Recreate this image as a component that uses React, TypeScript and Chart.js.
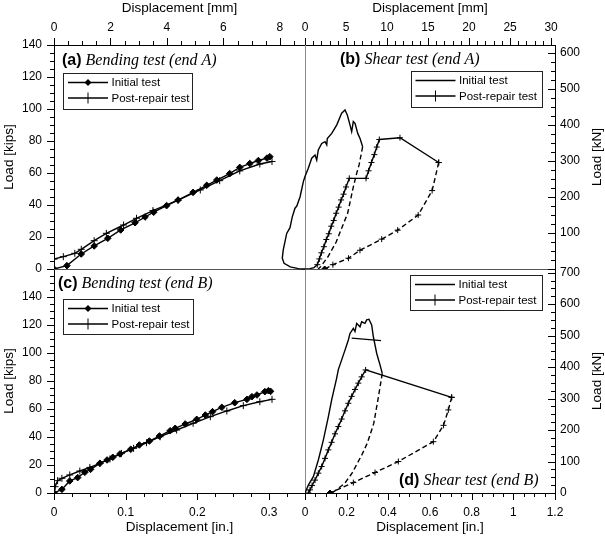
import React, { useEffect, useRef } from 'react';
import { Chart, registerables } from 'chart.js';

Chart.register(...registerables);

// ---------------- DATA ----------------
// (a) Bending test (end A): displacement [in.], load [kips]
const aInitialX = [0, 0.018, 0.038, 0.056, 0.075, 0.093, 0.113, 0.127, 0.139, 0.157, 0.173, 0.194, 0.213, 0.227, 0.245, 0.259, 0.273, 0.285, 0.297, 0.301];
const aInitialY = [0, 2.1, 9.4, 14.4, 19.2, 24.4, 28.9, 32.5, 35.5, 39.6, 43.1, 47.9, 52.3, 55.6, 59.6, 63.5, 65.9, 67.8, 69.3, 70.2];
const aPostX = [0, 0, 0.013, 0.029, 0.038, 0.056, 0.073, 0.097, 0.115, 0.138, 0.173, 0.204, 0.231, 0.259, 0.287, 0.304];
const aPostY = [0, 6.2, 7.7, 9.8, 12.3, 17.7, 22.3, 27.5, 31.7, 36.5, 43, 49.4, 55.2, 61.3, 65.6, 67.2];

// (c) Bending test (end B): displacement [in.], load [kips]
const cInitialX = [0, 0.011, 0.022, 0.033, 0.043, 0.051, 0.064, 0.074, 0.082, 0.092, 0.107, 0.119, 0.133, 0.147, 0.162, 0.169, 0.183, 0.199, 0.211, 0.221, 0.234, 0.252, 0.269, 0.276, 0.283, 0.294, 0.299, 0.302];
const cInitialY = [0, 2.6, 8.6, 11, 14.8, 16.9, 21.2, 23.6, 25.5, 27.9, 31.2, 34.3, 37.1, 40.7, 44.5, 46.2, 49.3, 52.6, 55.7, 58.1, 61.2, 64.5, 66.9, 68.8, 70, 72.4, 73.1, 72.6];
const cPostX = [0, 0.0015, 0.005, 0.011, 0.022, 0.036, 0.05, 0.064, 0.078, 0.094, 0.111, 0.129, 0.148, 0.171, 0.194, 0.218, 0.241, 0.264, 0.287, 0.304];
const cPostY = [0, 4.5, 8.8, 10.5, 12.9, 15.7, 18.3, 21.2, 24.3, 28.3, 31.9, 35.9, 40.2, 45, 49.8, 54.5, 58.6, 62.4, 65.2, 66.9];

// (b) Shear test (end A): displacement [mm], load [kN]
const bInitialX = [0, -0.8, -1.8, -2.55, -2.77, -2.65, -2.23, -1.83, -1.55, -1.22, -1.0, -0.6, -0.2, 0, 0.4, 0.82, 1.22, 1.43, 1.62, 2.04, 2.44, 2.65, 2.72, 3.26, 3.86, 4.47, 4.88, 5.16, 5.49, 5.69, 5.89, 6.1, 6.43, 6.71, 7.03];
const bInitialY = [0, 1, 6, 16, 30, 53, 99, 115, 145, 169, 175, 201, 243, 257, 280, 308, 317, 303, 331, 349, 354, 345, 363, 377, 400, 433, 442, 428, 400, 382, 410, 405, 377, 363, 340];
const bInitialUnloadX = [7.03, 6.6, 6.3, 5.9, 5.2, 3.8, 2.8, 1.9, 1.6];
const bInitialUnloadY = [340, 290, 266, 229, 155, 75, 34, 6, 0];
const bPostToeX = [0, 0.6, 1.1, 1.5];
const bPostToeY = [0, 1, 4, 12];
const bPostX = [1.5, 1.75, 2.0, 2.3, 2.6, 2.9, 3.2, 3.5, 3.8, 4.1, 4.4, 4.7, 5.0, 5.4, 7.44, 7.75, 8.1, 8.45, 8.75, 9.06, 11.58, 16.3];
const bPostY = [12, 28, 45, 62, 82, 98, 119, 135, 155, 172, 192, 208, 228, 252, 252, 273, 296, 318, 339, 360, 365, 296];
const bPostUnloadX = [16.3, 15.5, 13.8, 11.3, 9.35, 6.7, 5.3, 3.4, 2.4];
const bPostUnloadY = [296, 218, 150, 108, 83, 52, 30, 12, 0];

// (d) Shear test (end B): displacement [in.], load [kN]
const dInitialX = [0, 0.016, 0.04, 0.064, 0.088, 0.112, 0.128, 0.152, 0.16, 0.176, 0.192, 0.208, 0.216, 0.232, 0.24, 0.248, 0.264, 0.272, 0.288, 0.296, 0.307, 0.32, 0.328, 0.344, 0.36, 0.371];
const dInitialY = [0, 25, 52, 105, 168, 242, 296, 365, 392, 423, 454, 486, 507, 523, 513, 539, 528, 544, 539, 550, 552, 534, 497, 444, 407, 380];
const dInitialBranchX = [0.224, 0.365];
const dInitialBranchY = [492, 484];
const dInitialUnloadX = [0.371, 0.35, 0.33, 0.30, 0.272, 0.225, 0.19, 0.13];
const dInitialUnloadY = [380, 296, 221, 160, 120, 62, 30, 0];
const dPostX = [0.016, 0.024, 0.034, 0.048, 0.064, 0.080, 0.096, 0.112, 0.128, 0.144, 0.160, 0.176, 0.192, 0.208, 0.224, 0.240, 0.256, 0.272, 0.291, 0.704];
const dPostY = [0, 10, 24, 41, 63, 84, 110, 137, 161, 188, 211, 235, 261, 285, 307, 329, 349, 369, 391, 304];
const dPostUnloadX = [0.704, 0.688, 0.665, 0.616, 0.448, 0.336, 0.232, 0.12];
const dPostUnloadY = [304, 264, 215, 163, 100, 65, 33, 0];

// axis ranges
const IN_TO_MM = 25.4;
const KIPS_TO_KN = 4.448;
const LEFT_IN_MAX = 0.35;
const RIGHT_IN_MAX = 1.2;
const TOP_KIPS_MAX = 140;
const BOTTOM_KIPS_MAX = 160;

const LABEL_INITIAL = 'Initial test';
const LABEL_POST = 'Post-repair test';

const PANEL_TITLES = [
  { letter: '(a)', text: 'Bending test (end A)', x: 62, y: 61 },
  { letter: '(b)', text: 'Shear test (end A)', x: 340, y: 59.5 },
  { letter: '(c)', text: 'Bending test (end B)', x: 58, y: 284 },
  { letter: '(d)', text: 'Shear test (end B)', x: 399, y: 481 },
];

// ---------------- STYLE ----------------
const SANS = "'Liberation Sans', Arial, Helvetica, sans-serif";
const SERIF = "'Liberation Serif', 'Times New Roman', serif";
const tickFont = { family: SANS, size: 12 };
const titleFont = { family: SANS, size: 13.5 };

const LEGEND_BOXES: Record<string, { x: number; y: number; w: number; h: number }> = {
  a: { x: 63, y: 73, w: 129, h: 35.5 },
  b: { x: 410.5, y: 71, w: 131, h: 35.5 },
  c: { x: 63, y: 299, w: 130, h: 35 },
  d: { x: 410, y: 275, w: 131.5, h: 35 },
};

const MINOR_STEP: Record<string, number> = { xTL: 0.5, xTR: 1, xBL: 0.025, xBR: 0.05, yLT: 5, yLB: 5, yRT: 25, yRB: 25 };
const MAJOR_LEN = 7;
const MINOR_LEN = 4;

const zip = (xs: number[], ys: number[]) => xs.map((x, i) => ({ x, y: ys[i] }));
const fmt = (v: number) => String(Math.round(v * 1000) / 1000);

function drawTick(ctx: any, scale: any, v: number, len: number) {
  const p = Math.round(scale.getPixelForValue(v)) + 0.5;
  ctx.beginPath();
  if (scale.position === 'top') {
    ctx.moveTo(p, scale.bottom);
    ctx.lineTo(p, scale.bottom - len);
  } else if (scale.position === 'bottom') {
    ctx.moveTo(p, scale.top);
    ctx.lineTo(p, scale.top + len);
  } else if (scale.position === 'left') {
    ctx.moveTo(scale.right, p);
    ctx.lineTo(scale.right - len, p);
  } else {
    ctx.moveTo(scale.left, p);
    ctx.lineTo(scale.left - len, p);
  }
  ctx.stroke();
}

function drawMarker(ctx: any, style: string, x: number, y: number, r: number) {
  ctx.beginPath();
  if (style === 'diamond') {
    ctx.moveTo(x, y - r);
    ctx.lineTo(x + r, y);
    ctx.lineTo(x, y + r);
    ctx.lineTo(x - r, y);
    ctx.closePath();
    ctx.fill();
  } else if (style === 'cross') {
    ctx.moveTo(x, y - r);
    ctx.lineTo(x, y + r);
    ctx.stroke();
  }
}

const decorPlugin = {
  id: 'decor',
  beforeDatasetsDraw(chart: any) {
    const { ctx, chartArea: ca, scales } = chart;
    ctx.save();
    ctx.lineWidth = 1;
    // dividing lines
    const xm = Math.round(scales.xBR.getPixelForValue(0)) + 0.5;
    const ym = Math.round(scales.yLT.getPixelForValue(0)) + 0.5;
    ctx.strokeStyle = '#8c8c8c';
    ctx.beginPath();
    ctx.moveTo(xm, ca.top);
    ctx.lineTo(xm, ca.bottom);
    ctx.stroke();
    ctx.strokeStyle = '#555';
    ctx.beginPath();
    ctx.moveTo(ca.left, ym);
    ctx.lineTo(ca.right, ym);
    ctx.stroke();
    // ticks
    ctx.strokeStyle = '#000';
    Object.keys(MINOR_STEP).forEach((id) => {
      const scale = scales[id];
      if (!scale) return;
      const majors = scale.ticks.map((t: any) => t.value);
      majors.forEach((v: number) => drawTick(ctx, scale, v, MAJOR_LEN));
      const step = MINOR_STEP[id];
      const n = Math.floor((scale.max - scale.min) / step + 1e-6);
      for (let i = 0; i <= n; i++) {
        const v = scale.min + i * step;
        if (majors.some((m: number) => Math.abs(m - v) < step * 1e-3)) continue;
        drawTick(ctx, scale, v, MINOR_LEN);
      }
    });
    ctx.restore();
  },
  afterDatasetsDraw(chart: any) {
    const { ctx, scales } = chart;
    ctx.save();
    // right-hand axis titles (read bottom to top)
    ctx.fillStyle = '#000';
    ctx.font = `${titleFont.size}px ${SANS}`;
    ctx.textAlign = 'center';
    ctx.textBaseline = 'middle';
    ['yRT', 'yRB'].forEach((id) => {
      const s = scales[id];
      ctx.save();
      ctx.translate(s.right - 7.5, (s.top + s.bottom) / 2);
      ctx.rotate(-Math.PI / 2);
      ctx.fillText('Load [kN]', 0, 0);
      ctx.restore();
    });
    // legends
    Object.keys(LEGEND_BOXES).forEach((key) => {
      const b = LEGEND_BOXES[key];
      const items = chart.data.datasets.filter((d: any) => d.legendPanel === key);
      ctx.fillStyle = '#fff';
      ctx.fillRect(b.x, b.y, b.w, b.h);
      ctx.strokeStyle = '#222';
      ctx.lineWidth = 1;
      ctx.strokeRect(Math.round(b.x) + 0.5, Math.round(b.y) + 0.5, Math.round(b.w), Math.round(b.h));
      items.forEach((d: any, i: number) => {
        const y = b.y + 9.5 + i * 15.5;
        ctx.strokeStyle = '#000';
        ctx.fillStyle = '#000';
        ctx.lineWidth = 1.4;
        ctx.beginPath();
        ctx.moveTo(b.x + 5, y);
        ctx.lineTo(b.x + 45, y);
        ctx.stroke();
        ctx.lineWidth = 1;
        if (d.legendMarker === 'diamond') drawMarker(ctx, 'diamond', b.x + 25, y, 3.5);
        if (d.legendMarker === 'cross') drawMarker(ctx, 'cross', b.x + 25, y, 5.5);
        ctx.font = `11.5px ${SANS}`;
        ctx.textAlign = 'left';
        ctx.textBaseline = 'middle';
        ctx.fillText(d.label, b.x + 48.5, y + 0.5);
      });
    });
    // panel titles
    ctx.fillStyle = '#000';
    ctx.textBaseline = 'middle';
    ctx.textAlign = 'left';
    PANEL_TITLES.forEach((t) => {
      ctx.font = `bold 16px ${SANS}`;
      ctx.fillText(t.letter, t.x, t.y);
      const w = ctx.measureText(t.letter).width;
      ctx.font = `italic 16px ${SERIF}`;
      ctx.fillText(t.text, t.x + w + 4, t.y);
    });
    ctx.restore();
  },
};

function line(data: any[], xAxisID: string, yAxisID: string, extra: any = {}) {
  return {
    data,
    xAxisID,
    yAxisID,
    showLine: true,
    borderColor: '#000',
    backgroundColor: '#000',
    pointBackgroundColor: '#000',
    pointBorderColor: '#000',
    borderWidth: 1.4,
    pointRadius: 0,
    pointHoverRadius: 0,
    pointBorderWidth: 1,
    tension: 0,
    fill: false,
    ...extra,
  };
}

function axis(position: string, stack: string, stackWeight: number, weight: number, min: number, max: number, step: number, opts: any) {
  const horizontal = position === 'top' || position === 'bottom';
  return {
    type: 'linear',
    position,
    stack,
    stackWeight,
    weight,
    min,
    max,
    grid: { display: false, drawTicks: false },
    border: { display: true, color: '#000', width: 1 },
    ticks: {
      stepSize: step,
      includeBounds: false,
      autoSkip: false,
      maxRotation: 0,
      color: '#000',
      font: tickFont,
      padding: opts.padding,
      callback: (v: number) => (opts.hide && opts.hide.some((h: number) => Math.abs(h - v) < 1e-6) ? '' : fmt(v)),
    },
    title: opts.title
      ? { display: true, text: opts.title, color: '#000', font: titleFont, padding: opts.titlePadding }
      : { display: false },
    afterFit: (s: any) => {
      if (horizontal) s.height = opts.size;
      else s.width = opts.size;
      s.paddingLeft = 0;
      s.paddingRight = 0;
      s.paddingTop = 0;
      s.paddingBottom = 0;
    },
  };
}

export default function App() {
  const ref = useRef<HTMLCanvasElement | null>(null);

  useEffect(() => {
    if (!ref.current) return;
    const lastFilled = (c: any) => (c.dataIndex === c.dataset.data.length - 1 ? 'rectRot' : 'cross');
    const chart = new Chart(ref.current, {
      type: 'scatter',
      data: {
        datasets: [
          // (a)
          line(zip(aInitialX, aInitialY), 'xBL', 'yLT', { label: LABEL_INITIAL, legendPanel: 'a', legendMarker: 'diamond', pointStyle: 'rectRot', pointRadius: 3.3 }),
          line(zip(aPostX, aPostY), 'xBL', 'yLT', { label: LABEL_POST, legendPanel: 'a', legendMarker: 'cross', pointStyle: 'cross', pointRadius: 3.5 }),
          // (c)
          line(zip(cInitialX, cInitialY), 'xBL', 'yLB', { label: LABEL_INITIAL, legendPanel: 'c', legendMarker: 'diamond', pointStyle: 'rectRot', pointRadius: 3.3 }),
          line(zip(cPostX, cPostY), 'xBL', 'yLB', { label: LABEL_POST, legendPanel: 'c', legendMarker: 'cross', pointStyle: 'cross', pointRadius: 3.5 }),
          // (b)
          line(zip(bInitialX, bInitialY), 'xTR', 'yRT', { label: LABEL_INITIAL, legendPanel: 'b', legendMarker: 'none', clip: false }),
          line(zip(bInitialUnloadX, bInitialUnloadY), 'xTR', 'yRT', { label: LABEL_INITIAL, borderDash: [5, 3] }),
          line(zip(bPostToeX, bPostToeY), 'xTR', 'yRT', { label: LABEL_POST }),
          line(zip(bPostX, bPostY), 'xTR', 'yRT', { label: LABEL_POST, legendPanel: 'b', legendMarker: 'cross', pointStyle: 'cross', pointRadius: 3 }),
          line(zip(bPostUnloadX, bPostUnloadY), 'xTR', 'yRT', { label: LABEL_POST, borderDash: [5, 3], pointStyle: lastFilled, pointRadius: 3 }),
          // (d)
          line(zip(dInitialX, dInitialY), 'xBR', 'yRB', { label: LABEL_INITIAL, legendPanel: 'd', legendMarker: 'none' }),
          line(zip(dInitialBranchX, dInitialBranchY), 'xBR', 'yRB', { label: LABEL_INITIAL }),
          line(zip(dInitialUnloadX, dInitialUnloadY), 'xBR', 'yRB', { label: LABEL_INITIAL, borderDash: [5, 3] }),
          line(zip(dPostX, dPostY), 'xBR', 'yRB', { label: LABEL_POST, legendPanel: 'd', legendMarker: 'cross', pointStyle: 'cross', pointRadius: 3 }),
          line(zip(dPostUnloadX, dPostUnloadY), 'xBR', 'yRB', { label: LABEL_POST, borderDash: [5, 3], pointStyle: lastFilled, pointRadius: 3 }),
        ],
      },
      options: {
        animation: false,
        responsive: false,
        devicePixelRatio: 1,
        events: [],
        layout: { padding: 0 },
        plugins: { legend: { display: false }, tooltip: { enabled: false }, title: { display: false } },
        scales: {
          xTL: axis('top', 'top', 251, 2, 0, LEFT_IN_MAX * IN_TO_MM, 2, { padding: 10, size: 45, title: 'Displacement [mm]', titlePadding: { top: 0, bottom: 0 } }),
          xTR: axis('top', 'top', 250, 1, 0, RIGHT_IN_MAX * IN_TO_MM, 5, { padding: 10, size: 45, title: 'Displacement [mm]', titlePadding: { top: 0, bottom: 0 } }),
          xBL: axis('bottom', 'bottom', 251, 1, 0, LEFT_IN_MAX, 0.1, { padding: 12, size: 45, title: 'Displacement [in.]', titlePadding: { top: 0, bottom: 3 } }),
          xBR: axis('bottom', 'bottom', 250, 2, 0, RIGHT_IN_MAX, 0.2, { padding: 12, size: 45, title: 'Displacement [in.]', titlePadding: { top: 0, bottom: 3 } }),
          yLT: axis('left', 'left', 1, 2, 0, TOP_KIPS_MAX, 20, { padding: 12, size: 54, title: 'Load [kips]', titlePadding: { top: 1, bottom: 0 } }),
          yLB: axis('left', 'left', 1, 1, 0, BOTTOM_KIPS_MAX, 20, { padding: 12, size: 54, title: 'Load [kips]', titlePadding: { top: 1, bottom: 0 }, hide: [BOTTOM_KIPS_MAX] }),
          yRT: axis('right', 'right', 1, 1, 0, TOP_KIPS_MAX * KIPS_TO_KN, 100, { padding: 5, size: 50, hide: [0] }),
          yRB: axis('right', 'right', 1, 2, 0, BOTTOM_KIPS_MAX * KIPS_TO_KN, 100, { padding: 5, size: 50 }),
        },
      } as any,
      plugins: [decorPlugin as any],
    } as any);
    return () => chart.destroy();
  }, []);

  return (
    <div style={{ position: 'fixed', left: 0, top: 0, width: 605, height: 538, background: '#fff' }}>
      <canvas ref={ref} width={605} height={538} style={{ display: 'block', width: 605, height: 538 }} />
    </div>
  );
}
